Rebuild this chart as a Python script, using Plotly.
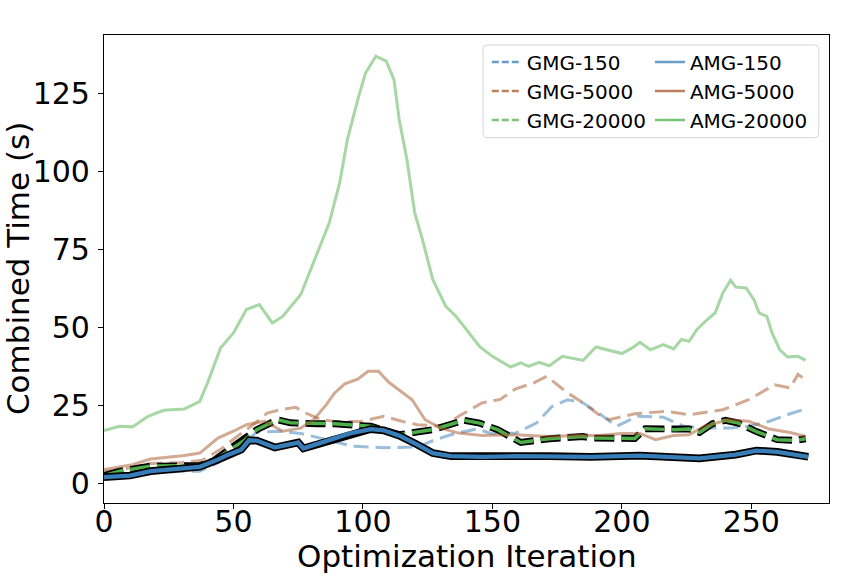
import plotly.graph_objects as go

# values (iteration, seconds)
gmg150_x = [0, 10, 20, 30, 37, 44, 53, 59, 68, 76, 86, 96, 108, 121, 128, 136, 144, 150, 159, 167,
            173, 179, 185, 191, 198, 206, 216, 224, 231, 242, 249, 257, 265, 271]
gmg150_y = [2.0, 2.5, 3.5, 4.0, 4.0, 6.7, 12.3, 16.5, 16.8, 16.1, 14.1, 12.0, 11.5, 11.8, 14.1, 16.2, 17.5, 16.0, 16.2, 19.4,
            24.7, 26.9, 25.9, 22.6, 18.4, 21.6, 21.3, 18.4, 17.8, 17.8, 18.4, 20.0, 22.4, 24.0]

gmg5000_x = [0, 10, 18, 30, 38, 45, 52, 57, 63, 68, 74, 78, 84, 89, 99, 108, 115, 121, 131, 137,
             146, 153, 159, 166, 171, 179, 185, 191, 195, 205, 217, 226, 239, 249, 259, 265, 268, 271]
gmg5000_y = [3.8, 5.0, 6.5, 6.8, 7.5, 11.0, 15.5, 18.5, 22.6, 23.7, 24.5, 22.6, 20.5, 19.9, 19.9, 21.6, 20.0, 18.9, 18.4, 21.6,
             25.9, 27.0, 30.4, 32.3, 34.4, 29.1, 25.9, 22.2, 20.5, 22.4, 23.2, 22.1, 23.7, 26.9, 31.7, 30.7, 35.0, 33.3]

gmg20000_x = [0, 6, 18, 37, 42, 50, 54, 59, 67, 72, 82, 89, 99, 103, 114, 127, 139, 145, 152, 161,
              172, 185, 188, 205, 209, 220, 226, 230, 235, 240, 245, 252, 260, 267, 271]
gmg20000_y = [2.6, 4.0, 5.6, 5.8, 7.2, 11.8, 13.8, 17.3, 20.5, 19.5, 19.2, 19.2, 18.6, 18.4, 15.7, 17.3, 20.3, 19.4, 17.3, 13.2,
              14.4, 15.1, 14.6, 14.5, 17.6, 17.3, 17.5, 16.4, 19.2, 20.3, 19.4, 16.7, 14.1, 13.9, 14.4]

amg150_x = [0, 10, 18, 24, 37, 44, 48, 53, 56, 59, 66, 73, 75, 77, 84, 89, 95, 99, 103, 108,
            114, 121, 127, 134, 146, 159, 172, 188, 207, 220, 230, 244, 252, 260, 272]
amg150_y = [2.1, 2.6, 4.0, 4.5, 5.4, 7.7, 9.3, 10.9, 13.9, 13.8, 11.6, 12.8, 13.2, 11.3, 13.0, 14.5, 16.1, 16.8, 17.5, 17.1,
            15.4, 12.5, 9.8, 8.8, 8.6, 8.8, 8.8, 8.6, 9.0, 8.6, 8.1, 9.3, 10.6, 10.2, 8.6]

amg5000_x = [0, 11, 18, 31, 37, 44, 50, 55, 62, 69, 76, 81, 86, 89, 93, 98, 102, 106, 110, 114,
             119, 124, 130, 137, 146, 159, 172, 182, 191, 200, 207, 213, 220, 226, 232, 241, 249, 257, 265, 271]
amg5000_y = [4.5, 6.1, 7.9, 9.0, 9.8, 14.6, 16.8, 18.9, 20.0, 16.8, 17.8, 20.5, 25.5, 29.0, 32.0, 33.5, 36.0, 36.0, 32.5, 30.1,
             26.9, 20.5, 17.8, 16.2, 15.4, 15.7, 15.1, 15.4, 15.4, 16.1, 16.1, 14.1, 15.4, 15.7, 18.4, 20.5, 20.0, 17.5, 16.4, 15.1]

amg20000_x = [0, 6, 11, 17, 23, 31, 37, 40, 45, 50, 55, 60, 65, 69, 76, 82, 87, 91, 94, 98,
              101, 105, 109, 112, 114, 117, 120, 123, 127, 132, 136, 141, 145, 150, 157, 161, 164, 168, 172, 177,
              185, 190, 194, 200, 204, 207, 211, 216, 220, 223, 226, 229, 233, 236, 239, 242, 244, 248, 251, 253,
              256, 258, 261, 264, 268, 271]
amg20000_y = [17.0, 18.4, 18.2, 21.6, 23.5, 23.9, 26.4, 32.3, 43.5, 48.3, 55.8, 57.4, 51.5, 53.6, 60.6, 72.9, 83.6, 96.4, 110.3, 123.1,
              131.6, 137.0, 135.4, 129.5, 116.7, 103.8, 86.8, 78.2, 65.4, 56.8, 53.6, 48.3, 44.0, 40.8, 37.4, 38.7, 37.6, 38.9, 37.8, 40.8,
              39.5, 43.8, 42.9, 41.7, 43.5, 45.3, 42.9, 44.6, 43.2, 46.2, 45.6, 49.4, 52.6, 54.7, 61.1, 65.2, 63.0, 62.7, 59.0, 54.7,
              53.6, 48.3, 42.9, 40.6, 40.8, 39.5]

BLUE = (55, 126, 184)
BROWN = (166, 86, 40)
GREEN = (77, 175, 74)


def rgba(c, a):
    return f"rgba({c[0]},{c[1]},{c[2]},{a})"


fig = go.Figure()


def faint(x, y, c, dash):
    fig.add_trace(go.Scatter(x=x, y=y, mode="lines", showlegend=False, hoverinfo="skip",
                             line=dict(color=rgba(c, 0.5), width=3, dash=dash)))


def outlined(x, y, c, dash, w):
    fig.add_trace(go.Scatter(x=x, y=y, mode="lines", showlegend=False, hoverinfo="skip",
                             line=dict(color="black", width=w + 3.4, dash=dash)))
    fig.add_trace(go.Scatter(x=x, y=y, mode="lines", showlegend=False, hoverinfo="skip",
                             line=dict(color=rgba(c, 1), width=w, dash=dash)))


faint(gmg150_x, gmg150_y, BLUE, "15px,7px")
faint(gmg5000_x, gmg5000_y, BROWN, "15px,7px")
outlined(gmg20000_x, gmg20000_y, GREEN, "20px,7px", 3.5)
outlined(amg150_x, amg150_y, BLUE, "solid", 4.3)
faint(amg5000_x, amg5000_y, BROWN, "solid")
faint(amg20000_x, amg20000_y, GREEN, "solid")

# legend-only entries, two columns as two legends
for name, c, dash, leg in [("GMG-150", BLUE, "7px,3px", "legend"),
                           ("GMG-5000", BROWN, "7px,3px", "legend"),
                           ("GMG-20000", GREEN, "7px,3px", "legend"),
                           ("AMG-150", BLUE, "solid", "legend2"),
                           ("AMG-5000", BROWN, "solid", "legend2"),
                           ("AMG-20000", GREEN, "solid", "legend2")]:
    fig.add_trace(go.Scatter(x=[None], y=[None], mode="lines", name=name, legend=leg,
                             legendgroup=name,
                             line=dict(color=rgba(c, 0.75), width=2.5, dash=dash)))

# rounded legend frame
x0, x1, y0, y1 = 0.5229, 0.9858, 0.7806, 0.9786
rx, ry = 0.0055, 0.0085
frame = (f"M{x0+rx},{y1} L{x1-rx},{y1} Q{x1},{y1} {x1},{y1-ry} L{x1},{y0+ry} Q{x1},{y0} {x1-rx},{y0} "
         f"L{x0+rx},{y0} Q{x0},{y0} {x0},{y0+ry} L{x0},{y1-ry} Q{x0},{y1} {x0+rx},{y1} Z")
fig.add_shape(type="path", path=frame, xref="paper", yref="paper", layer="above",
              line=dict(color="#d6d6d6", width=1), fillcolor="rgba(255,255,255,0.8)")

axis_common = dict(showgrid=False, zeroline=False, showline=True, linecolor="black", linewidth=1.1,
                   mirror=True, ticks="outside", ticklen=5, tickwidth=1.1, tickcolor="black",
                   automargin=False, tickfont=dict(size=30, color="black"))

leg_common = dict(xanchor="left", yanchor="top", bgcolor="rgba(0,0,0,0)", borderwidth=0,
                  font=dict(size=20, color="black"), tracegroupgap=0)

fig.update_layout(
    width=864, height=576,
    paper_bgcolor="white", plot_bgcolor="white",
    font=dict(family="DejaVu Sans", color="black"),
    margin=dict(l=104, r=35, t=35, b=73, autoexpand=False),
    xaxis=dict(range=[0, 280], tickvals=[0, 50, 100, 150, 200, 250], ticklabelstandoff=-13, **axis_common),
    yaxis=dict(range=[-6.2, 143.8], tickvals=[0, 25, 50, 75, 100, 125], ticklabelstandoff=2, **axis_common),
    legend=dict(x=0.528, y=0.984, **leg_common),
    legend2=dict(x=0.753, y=0.984, **leg_common),
    annotations=[
        dict(text="Optimization Iteration", x=0.5, y=-0.1126, xref="paper", yref="paper",
             xanchor="center", yanchor="middle", showarrow=False, font=dict(size=31)),
        dict(text="Combined Time (s)", x=-0.1185, y=0.5, xref="paper", yref="paper", textangle=-90,
             xanchor="center", yanchor="middle", showarrow=False, font=dict(size=31)),
    ],
)

# the page body has a default 8px margin; drop it so the figure fills the window exactly
fig.write_html("out.html", config={"displayModeBar": False},
               post_script="document.body.style.margin='0';")
